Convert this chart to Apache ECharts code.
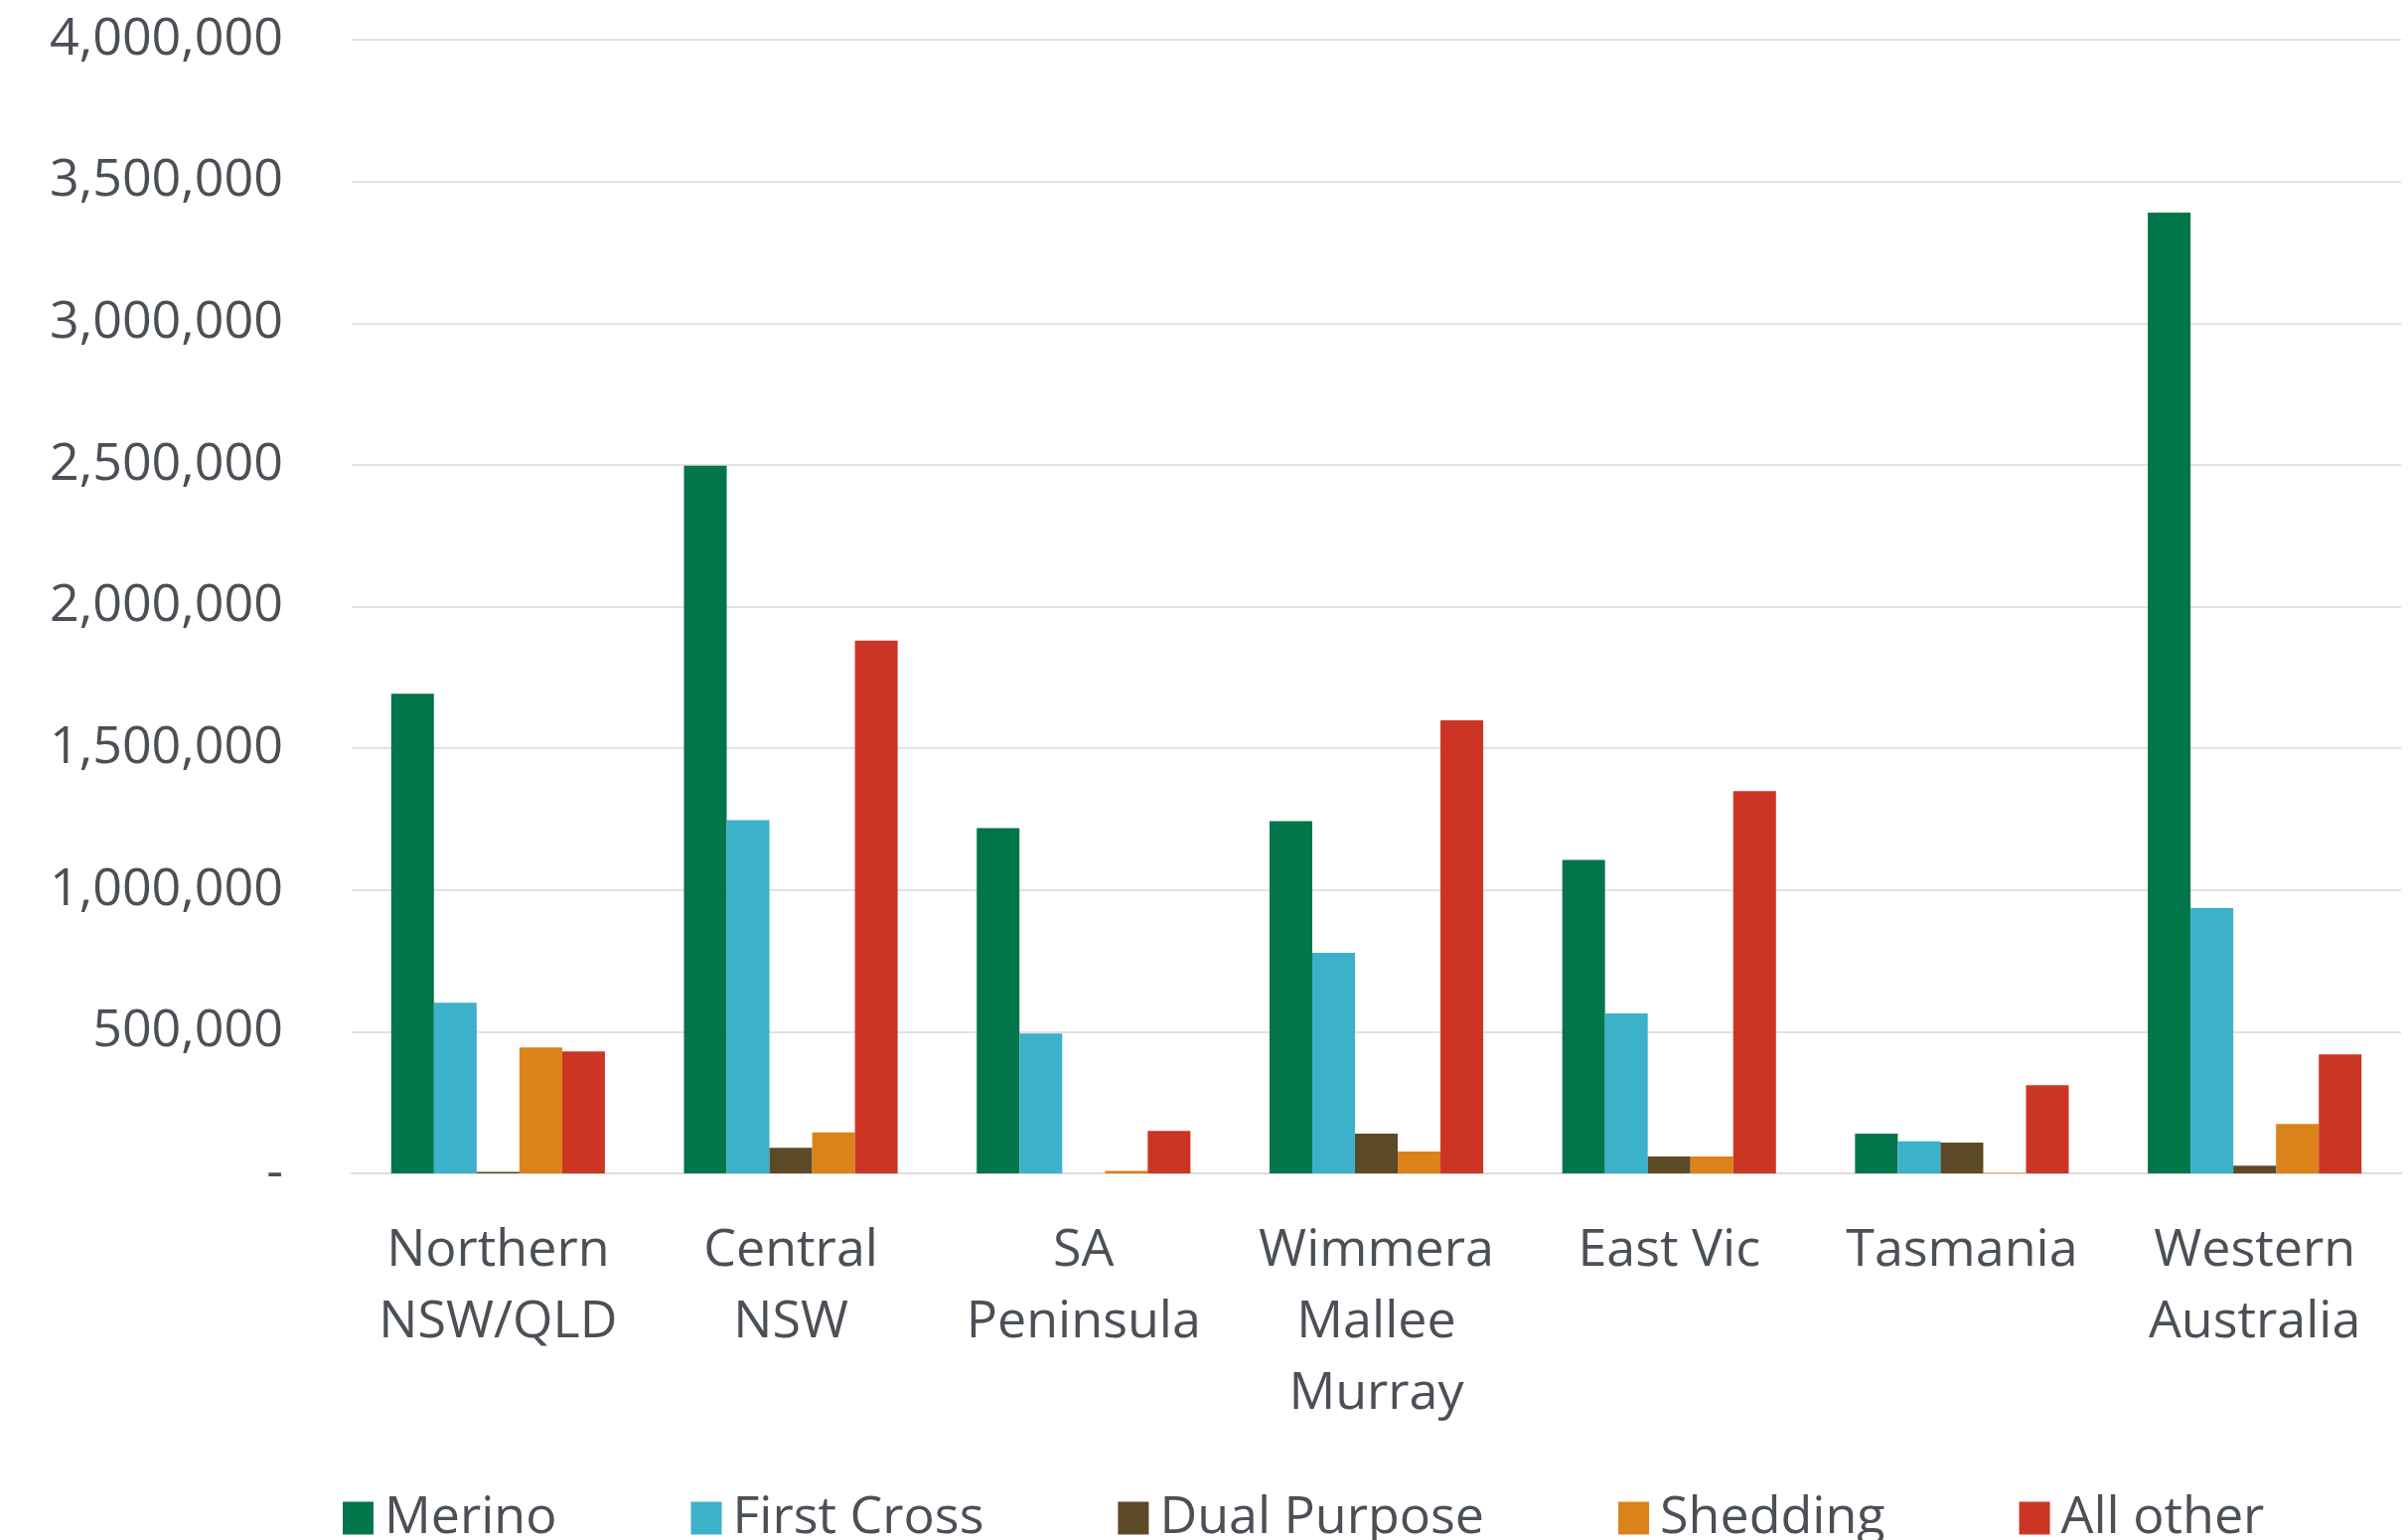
<!DOCTYPE html>
<html>
<head>
<meta charset="utf-8">
<script src="https://cdn.jsdelivr.net/npm/echarts@6/dist/echarts.min.js"></script>
<style>
  html, body { margin: 0; padding: 0; background: #fff; }
  #chart { width: 2424px; height: 1550px; }
</style>
</head>
<body>
<div id="chart"></div>
<script>
// regions along the x axis
const regions = ["Northern\nNSW/QLD", "Central\nNSW", "SA\nPeninsula", "Wimmera\nMallee\nMurray", "East Vic", "Tasmania", "Western\nAustralia"];
// sheep numbers by breed type
const merino = [1692000, 2497000, 1218000, 1243000, 1106000, 140000, 3390000];
const firstCross = [602000, 1246000, 493000, 778000, 564000, 113000, 936000];
const dualPurpose = [5000, 90000, 0, 140000, 60000, 109000, 27000];
const shedding = [444000, 145000, 9000, 77000, 60000, 2000, 174000];
const allOther = [430000, 1880000, 150000, 1599000, 1349000, 311000, 420000];
const seriesNames = ["Merino", "First Cross", "Dual Purpose", "Shedding", "All other"];
const seriesColors = ["#02754a", "#3bb1ca", "#5c4a26", "#dc821a", "#cc3524"];

const textColor = "#4b5057";
const font = "Open Sans";

const chart = echarts.init(document.getElementById("chart"));

// build one bar series per breed
const seriesData = [merino, firstCross, dualPurpose, shedding, allOther];
const series = seriesData.map((data, i) => ({
    name: seriesNames[i],
    type: "bar",
    data: data,
    barGap: "0%",
    barCategoryGap: "27%",
    itemStyle: { color: seriesColors[i] },
    animation: false
}));

chart.setOption({
    backgroundColor: "#fff",
    grid: { left: 354, right: 7, top: 40, bottom: 369 },
    legend: {
        left: 340,
        top: 1497,
        itemWidth: 31,
        itemHeight: 33,
        itemGap: 135,
        icon: "rect",
        textStyle: { color: textColor, fontSize: 52, fontFamily: font, padding: [0, 0, 0, 6] },
        data: seriesNames
    },
    xAxis: {
        type: "category",
        data: regions,
        axisLine: { show: true, lineStyle: { color: "#dcdcdc", width: 2 } },
        axisTick: { show: false },
        axisLabel: {
            color: textColor,
            fontSize: 52,
            fontFamily: font,
            lineHeight: 72,
            margin: 42,
            interval: 0
        }
    },
    yAxis: {
        type: "value",
        min: 0,
        max: 4000000,
        interval: 500000,
        axisLine: { show: false },
        axisTick: { show: false },
        splitLine: { lineStyle: { color: "#e2e2e2", width: 2 } },
        axisLabel: {
            color: textColor,
            fontSize: 52,
            fontFamily: font,
            margin: 69,
            padding: [8, 0, 0, 0],
            formatter: (v) => v === 0 ? "-" : v.toLocaleString("en-US")
        }
    },
    series: series
});
</script>
</body>
</html>
